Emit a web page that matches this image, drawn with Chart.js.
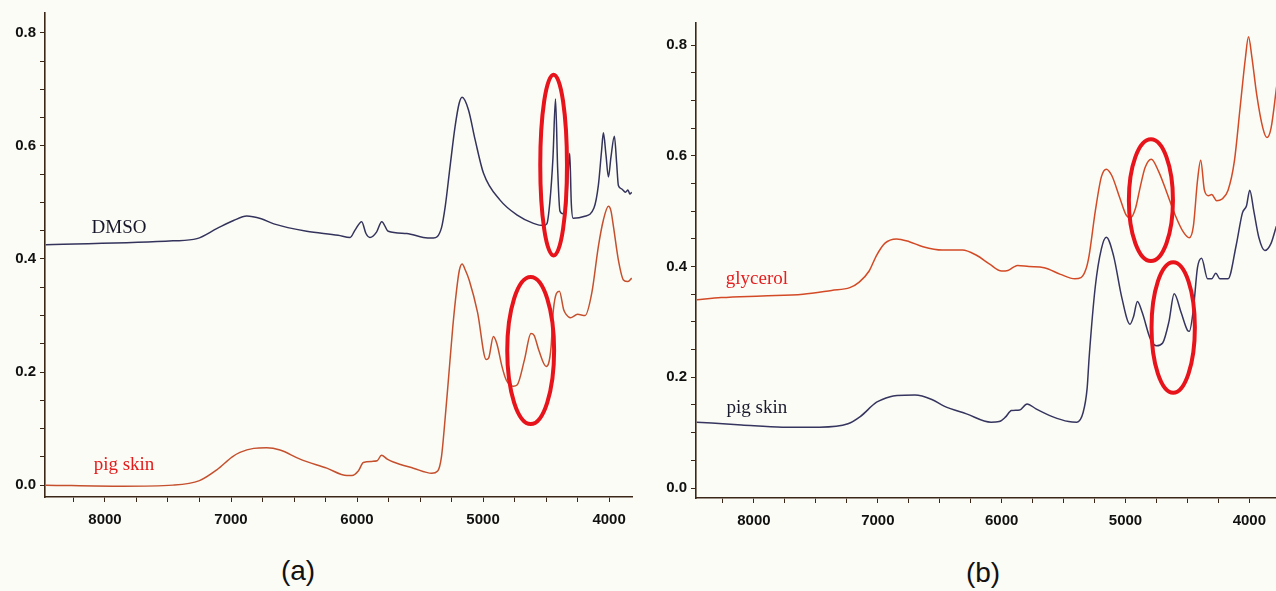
<!DOCTYPE html>
<html>
<head>
<meta charset="utf-8">
<script src="https://cdn.jsdelivr.net/npm/chart.js@4.4.1/dist/chart.umd.min.js"></script>
<style>
  body { margin: 0; background: #fcfcf6; width: 1276px; height: 591px; position: relative; overflow: hidden; }
  canvas { position: absolute; top: 0; }
  #panelA { left: 0; }
  #panelB { left: 650px; }
  .tag { position: absolute; font-family: "Liberation Sans", Arial, sans-serif; font-size: 28px; color: #111; transform: translate(-50%, -50%); }
</style>
</head>
<body>
<canvas id="panelA" width="640" height="545"></canvas>
<canvas id="panelB" width="626" height="545"></canvas>
<div class="tag" style="left:298px; top:571px">(a)</div>
<div class="tag" style="left:983px; top:573px">(b)</div>
<script>
// NIR absorbance spectra, wavenumber in cm-1

// (a) DMSO
const dmsoWn = [8470, 7460, 7270, 7110, 6980, 6875, 6760, 6660, 6400, 6150,
  6055, 6016, 5963, 5929, 5897, 5844, 5804, 5752, 5605, 5474,
  5394, 5330, 5300, 5262, 5222, 5190, 5166, 5116, 5063, 4997,
  4865, 4732, 4600, 4521, 4494, 4470, 4445, 4425, 4408, 4390,
  4365, 4340, 4325, 4312, 4300, 4285, 4200, 4120, 4085, 4060,
  4045, 4025, 4005, 3985, 3958, 3940, 3926, 3900, 3870, 3850,
  3835, 3820];
const dmsoAbs = [0.425, 0.432, 0.436, 0.454, 0.468, 0.476, 0.471, 0.462, 0.449, 0.442,
  0.438, 0.451, 0.466, 0.445, 0.438, 0.448, 0.466, 0.449, 0.445, 0.438,
  0.437, 0.455, 0.493, 0.563, 0.634, 0.675, 0.686, 0.664, 0.611, 0.552,
  0.504, 0.478, 0.463, 0.459, 0.462, 0.5, 0.58, 0.683, 0.56, 0.485,
  0.48, 0.49, 0.55, 0.587, 0.5, 0.472, 0.475, 0.49, 0.53, 0.59,
  0.623, 0.585, 0.545, 0.58, 0.617, 0.57, 0.53, 0.524, 0.518, 0.522,
  0.515, 0.518];

// (a) pig skin
const skinAWn = [8470, 7860, 7460, 7250, 7113, 6990, 6929, 6820, 6717, 6611,
  6452, 6240, 6080, 6040, 5990, 5950, 5880, 5840, 5806, 5760,
  5712, 5553, 5407, 5360, 5330, 5300, 5275, 5240, 5210, 5188,
  5166, 5140, 5109, 5044, 4975, 4955, 4918, 4890, 4850, 4816,
  4760, 4730, 4671, 4620, 4595, 4558, 4499, 4480, 4460, 4442,
  4394, 4360, 4341, 4307, 4250, 4190, 4137, 4085, 4045, 4005,
  3985, 3965, 3926, 3886, 3850, 3820];
const skinAAbs = [0.0, -0.002, 0.0, 0.008, 0.027, 0.05, 0.058, 0.065, 0.066, 0.062,
  0.046, 0.03, 0.017, 0.017, 0.025, 0.04, 0.042, 0.043, 0.053, 0.046,
  0.041, 0.03, 0.021, 0.025, 0.05, 0.12, 0.186, 0.28, 0.345, 0.38,
  0.391, 0.38, 0.362, 0.306, 0.222, 0.225, 0.263, 0.25, 0.21, 0.186,
  0.175, 0.177, 0.222, 0.268, 0.265, 0.239, 0.21, 0.215, 0.245, 0.31,
  0.343, 0.31, 0.302, 0.296, 0.302, 0.3, 0.34, 0.422, 0.469, 0.493,
  0.485, 0.457, 0.398, 0.363, 0.36, 0.366];

// (b) glycerol
const glyWn = [8462, 8264, 7934, 7604, 7373, 7226, 7150, 7070, 7011, 6944,
  6849, 6746, 6635, 6480, 6317, 6200, 6100, 6000, 5950, 5904,
  5871, 5780, 5657, 5525, 5409, 5360, 5320, 5294, 5244, 5195,
  5155, 5112, 5046, 4997, 4960, 4920, 4880, 4842, 4792, 4733,
  4667, 4601, 4535, 4485, 4452, 4419, 4393, 4363, 4330, 4304,
  4264, 4221, 4172, 4122, 4073, 4033, 4007, 3980, 3941, 3891,
  3858, 3825, 3780];
const glyAbs = [0.34, 0.344, 0.347, 0.35, 0.357, 0.362, 0.372, 0.392, 0.42, 0.442,
  0.45, 0.445, 0.436, 0.43, 0.43, 0.42, 0.405, 0.392, 0.393, 0.399,
  0.402, 0.4, 0.398, 0.386, 0.378, 0.38, 0.395, 0.42, 0.5, 0.562,
  0.576, 0.565, 0.524, 0.494, 0.488, 0.505, 0.545, 0.579, 0.594, 0.572,
  0.534, 0.494, 0.463, 0.452, 0.473, 0.555, 0.592, 0.538, 0.528, 0.53,
  0.519, 0.522, 0.538, 0.589, 0.691, 0.775, 0.815, 0.779, 0.711, 0.65,
  0.633, 0.65, 0.725];

// (b) pig skin
const skinBWn = [8462, 8100, 7770, 7470, 7241, 7142, 7010, 6900, 6845, 6700,
  6564, 6465, 6284, 6086, 6020, 5970, 5921, 5855, 5795, 5723,
  5591, 5459, 5393, 5343, 5310, 5294, 5244, 5195, 5155, 5096,
  5030, 4964, 4935, 4904, 4865, 4799, 4749, 4700, 4650, 4607,
  4551, 4500, 4485, 4452, 4419, 4386, 4337, 4304, 4271, 4238,
  4172, 4106, 4056, 4023, 3997, 3964, 3924, 3875, 3825, 3782];
const skinBAbs = [0.119, 0.114, 0.11, 0.11, 0.116, 0.129, 0.155, 0.165, 0.167, 0.168,
  0.16, 0.148, 0.134, 0.119, 0.12, 0.128, 0.14, 0.141, 0.152, 0.143,
  0.129, 0.12, 0.119, 0.136, 0.18, 0.235, 0.364, 0.432, 0.453, 0.419,
  0.344, 0.296, 0.31, 0.337, 0.317, 0.269, 0.257, 0.262, 0.3, 0.351,
  0.317, 0.285, 0.283, 0.323, 0.398, 0.415, 0.378, 0.378, 0.388, 0.378,
  0.378, 0.439, 0.497, 0.51, 0.538, 0.5, 0.453, 0.429, 0.442, 0.473];

// axis ticks: every tick gets a mark, only the listed ones get a label
const xTickValues = [4000, 4250, 4500, 4750, 5000, 5250, 5500, 5750, 6000, 6250,
  6500, 6750, 7000, 7250, 7500, 7750, 8000, 8250];
const xTickLabels = [4000, 5000, 6000, 7000, 8000];
const yTickValues = [0, 0.05, 0.1, 0.15, 0.2, 0.25, 0.3, 0.35, 0.4, 0.45,
  0.5, 0.55, 0.6, 0.65, 0.7, 0.75, 0.8];
const yTickLabels = [0, 0.2, 0.4, 0.6, 0.8];

// highlighted bands (centre and half-widths in data units)
const ringsA = [
  { wn: 4440, abs: 0.566, dWn: 106, dAbs: 0.16 },
  { wn: 4622, abs: 0.238, dWn: 186, dAbs: 0.13 }
];
const ringsB = [
  { wn: 4795, abs: 0.52, dWn: 178, dAbs: 0.11 },
  { wn: 4615, abs: 0.29, dWn: 175, dAbs: 0.118 }
];

// curve names
const namesA = [
  { text: 'DMSO', wn: 7889, abs: 0.455, color: '#16162a' },
  { text: 'pig skin', wn: 7849, abs: 0.035, color: '#e41b1b' }
];
const namesB = [
  { text: 'glycerol', wn: 7976, abs: 0.377, color: '#e42020' },
  { text: 'pig skin', wn: 7976, abs: 0.144, color: '#1a1a2e' }
];

function spectrum(wn, abs) {
  return wn.map((w, i) => ({ x: w, y: abs[i] }));
}

const markPlugin = {
  id: 'marks',
  afterDatasetsDraw(chart, args, opts) {
    const { ctx } = chart;
    const x = chart.scales.x, y = chart.scales.y;
    ctx.save();
    ctx.strokeStyle = '#e8141c';
    ctx.lineWidth = 4;
    opts.rings.forEach(r => {
      const cx = x.getPixelForValue(r.wn);
      const cy = y.getPixelForValue(r.abs);
      const rx = Math.abs(x.getPixelForValue(r.wn + r.dWn) - cx);
      const ry = Math.abs(y.getPixelForValue(r.abs + r.dAbs) - cy);
      ctx.beginPath();
      ctx.ellipse(cx, cy, rx, ry, 0, 0, Math.PI * 2);
      ctx.stroke();
    });
    ctx.font = '19px "Liberation Serif", "Times New Roman", serif';
    ctx.textAlign = 'center';
    ctx.textBaseline = 'middle';
    opts.names.forEach(n => {
      ctx.fillStyle = n.color;
      ctx.fillText(n.text, x.getPixelForValue(n.wn), y.getPixelForValue(n.abs));
    });
    ctx.restore();
  }
};

const axisColor = '#3a2718';
const tickFont = { family: '"Liberation Sans", Arial, sans-serif', size: 15, weight: 'bold' };

function makePanel(id, p) {
  return new Chart(document.getElementById(id), {
    type: 'line',
    data: {
      datasets: p.series.map(s => ({
        data: spectrum(s.wn, s.abs),
        borderColor: s.color,
        borderWidth: 1.5,
        pointRadius: 0,
        cubicInterpolationMode: 'monotone',
        fill: false
      }))
    },
    options: {
      responsive: false,
      animation: false,
      events: [],
      layout: { padding: { top: p.top, right: p.right, left: 0, bottom: 0 } },
      plugins: {
        legend: { display: false },
        tooltip: { enabled: false },
        marks: { rings: p.rings, names: p.names }
      },
      scales: {
        x: {
          type: 'linear',
          reverse: true,
          min: p.xMin,
          max: p.xMax,
          afterBuildTicks: s => { s.ticks = xTickValues.map(v => ({ value: v })); },
          afterFit: s => { s.height = p.xHeight; },
          ticks: {
            autoSkip: false,
            maxRotation: 0,
            padding: 9,
            color: '#111',
            font: tickFont,
            callback: v => xTickLabels.includes(v) ? String(v) : ''
          },
          grid: { drawOnChartArea: false, tickLength: 5, color: axisColor },
          border: { color: axisColor, width: 1.6 }
        },
        y: {
          type: 'linear',
          min: p.yMin,
          max: p.yMax,
          afterBuildTicks: s => { s.ticks = yTickValues.map(v => ({ value: v })); },
          afterFit: s => { s.width = p.yWidth; },
          ticks: {
            autoSkip: false,
            padding: 4,
            color: '#111',
            font: tickFont,
            callback: v => yTickLabels.includes(v) ? v.toFixed(1) : ''
          },
          grid: { drawOnChartArea: false, tickLength: 5, color: axisColor },
          border: { color: axisColor, width: 1.6 }
        }
      }
    },
    plugins: [markPlugin]
  });
}

makePanel('panelA', {
  series: [
    { wn: dmsoWn, abs: dmsoAbs, color: '#33335c' },
    { wn: skinAWn, abs: skinAAbs, color: '#c4502e' }
  ],
  rings: ringsA,
  names: namesA,
  xMin: 3818, xMax: 8476,
  yMin: -0.021, yMax: 0.835,
  top: 13, right: 8, xHeight: 48, yWidth: 45
});

makePanel('panelB', {
  series: [
    { wn: glyWn, abs: glyAbs, color: '#d24a26' },
    { wn: skinBWn, abs: skinBAbs, color: '#35355f' }
  ],
  rings: ringsB,
  names: namesB,
  xMin: 3785, xMax: 8468,
  yMin: -0.018, yMax: 0.84,
  top: 23, right: 0, xHeight: 47, yWidth: 46
});
</script>
</body>
</html>
